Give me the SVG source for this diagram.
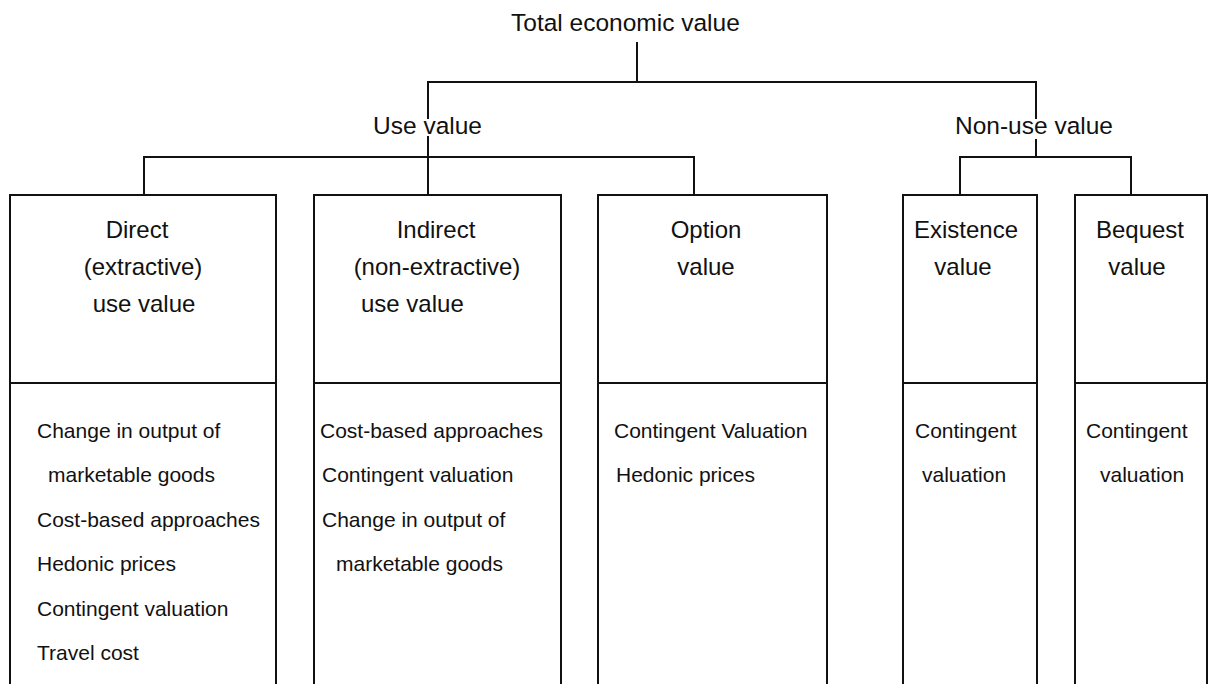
<svg xmlns="http://www.w3.org/2000/svg" width="1212" height="684" viewBox="0 0 1212 684">
<style>
  text { font-family: "Liberation Sans", Arial, Helvetica, sans-serif; fill: #111; }
  .lvl { font-size: 24.5px; }
  .hd { font-size: 24px; text-anchor: middle; }
  .it { font-size: 21px; }
  .ln { stroke: #111; stroke-width: 2; fill: none; stroke-linecap: square; }
</style>
<rect width="1212" height="684" fill="#fff"/>

<g id="total">
  <text class="lvl" x="511" y="31">Total economic value</text>
</g>
<g id="use">
  <text class="lvl" x="373" y="134">Use value</text>
</g>
<g id="nonuse">
  <text class="lvl" x="955" y="134">Non-use value</text>
</g>

<g id="connectors" class="ln">
  <path class="ln" d="M637 43 V82"/>
  <path class="ln" d="M428 82 H1036"/>
  <path class="ln" d="M428 82 V118"/>
  <path class="ln" d="M428 137 V195"/>
  <path class="ln" d="M1036 82 V118"/>
  <path class="ln" d="M1036 140 V157"/>
  <path class="ln" d="M144 157 H694"/>
  <path class="ln" d="M144 157 V195"/>
  <path class="ln" d="M694 157 V195"/>
  <path class="ln" d="M960 157 H1131"/>
  <path class="ln" d="M960 157 V195"/>
  <path class="ln" d="M1131 157 V195"/>
</g>

<g id="direct">
  <path class="ln" d="M10 686 V195 H276 V686 M10 383 H276"/>
  <text class="hd" x="137" y="238">Direct</text>
  <text class="hd" x="143" y="275">(extractive)</text>
  <text class="hd" x="144" y="312">use value</text>
  <text class="it" x="37" y="438">Change in output of</text>
  <text class="it" x="48" y="482">marketable goods</text>
  <text class="it" x="37" y="527">Cost-based approaches</text>
  <text class="it" x="37" y="571">Hedonic prices</text>
  <text class="it" x="37" y="616">Contingent valuation</text>
  <text class="it" x="37" y="660">Travel cost</text>
</g>

<g id="indirect">
  <path class="ln" d="M314 686 V195 H561 V686 M314 383 H561"/>
  <text class="hd" x="436" y="238">Indirect</text>
  <text class="hd" x="437" y="275">(non-extractive)</text>
  <text class="hd" x="361" y="312" style="text-anchor:start">use value</text>
  <text class="it" x="320" y="438">Cost-based approaches</text>
  <text class="it" x="322" y="482">Contingent valuation</text>
  <text class="it" x="322" y="527">Change in output of</text>
  <text class="it" x="336" y="571">marketable goods</text>
</g>

<g id="option">
  <path class="ln" d="M598 686 V195 H827 V686 M598 383 H827"/>
  <text class="hd" x="706" y="238">Option</text>
  <text class="hd" x="706" y="275">value</text>
  <text class="it" x="614" y="438">Contingent Valuation</text>
  <text class="it" x="616" y="482">Hedonic prices</text>
</g>

<g id="existence">
  <path class="ln" d="M903 686 V195 H1037 V686 M903 383 H1037"/>
  <text class="hd" x="966" y="238">Existence</text>
  <text class="hd" x="963" y="275">value</text>
  <text class="it" x="915" y="438">Contingent</text>
  <text class="it" x="922" y="482">valuation</text>
</g>

<g id="bequest">
  <path class="ln" d="M1075 686 V195 H1207 V686 M1075 383 H1207"/>
  <text class="hd" x="1140" y="238">Bequest</text>
  <text class="hd" x="1137" y="275">value</text>
  <text class="it" x="1086" y="438">Contingent</text>
  <text class="it" x="1100" y="482">valuation</text>
</g>
</svg>
